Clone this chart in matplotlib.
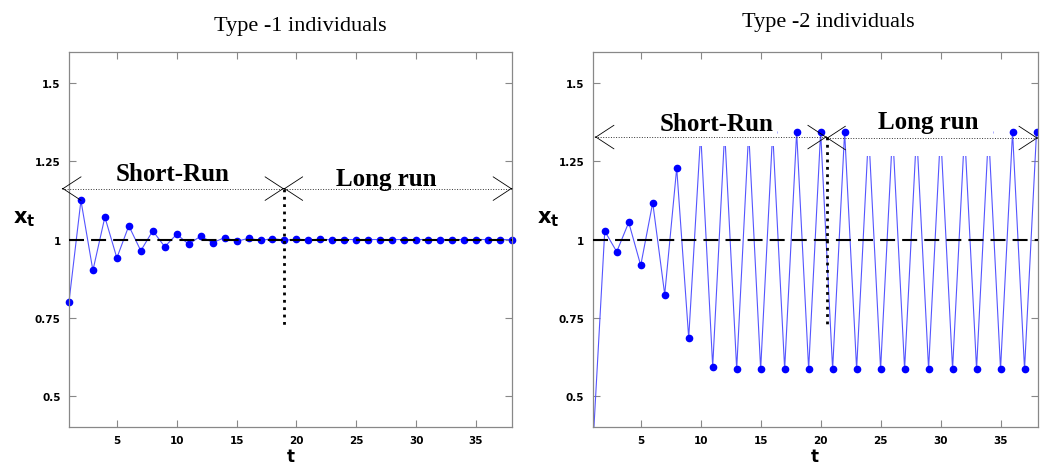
import numpy as np
import matplotlib
matplotlib.use("Agg")
import matplotlib.pyplot as plt
from matplotlib.patches import Rectangle

# --- DATA ---
t = np.arange(1, 39)

type1_x = [0.80, 1.125, 0.901, 1.072, 0.941, 1.044, 0.964, 1.028, 0.977, 1.017,
           0.985, 1.011, 0.990, 1.006, 0.994, 1.004, 0.997, 1.003, 0.998, 1.001,
           0.999, 1.001, 0.999, 1.0, 1.0, 1.0, 1.0, 1.0, 1.0, 1.0,
           1.0, 1.0, 1.0, 1.0, 1.0, 1.0, 1.0, 1.0]

type2_x = [0.33, 1.027, 0.961, 1.055, 0.917, 1.118, 0.824, 1.229, 0.685, 1.34,
           0.593, 1.345, 0.585, 1.345, 0.585, 1.345, 0.585, 1.345, 0.585, 1.345,
           0.585, 1.345, 0.585, 1.345, 0.585, 1.345, 0.585, 1.345, 0.585, 1.345,
           0.585, 1.345, 0.585, 1.345, 0.585, 1.345, 0.585, 1.345]

titles = ["Type -1 individuals", "Type -2 individuals"]
yticks = [0.5, 0.75, 1, 1.25, 1.5]
ytick_labels = ["0.5", "0.75", "1", "1.25", "1.5"]
xticks = [5, 10, 15, 20, 25, 30, 35]

# --- FIGURE ---
fig = plt.figure(figsize=(10.48, 4.64), dpi=100)
ax1 = fig.add_axes([0.0658, 0.0776, 0.4227, 0.808])
ax2 = fig.add_axes([0.5656, 0.0776, 0.4246, 0.808])

serif = "Liberation Serif"


def style_axes(ax, xmax):
    ax.set_xlim(1, xmax)
    ax.set_ylim(0.4, 1.6)
    ax.set_yticks(yticks)
    ax.set_yticklabels(ytick_labels)
    ax.set_xticks(xticks)
    ax.tick_params(direction="in", length=5, width=0.8, color="#888888",
                   top=True, right=True, labelsize=7.5, pad=6)
    for lab in ax.get_xticklabels() + ax.get_yticklabels():
        lab.set_fontweight("bold")
    for sp in ax.spines.values():
        sp.set_color("#888888")
        sp.set_linewidth(0.9)
    ax.set_xlabel("t", fontsize=12, fontweight="bold", labelpad=1)
    ax.set_ylabel(r"$\mathbf{x_t}$", fontsize=15, rotation=0, labelpad=14)
    ax.yaxis.set_label_coords(-0.1, 0.53)


def double_arrow(ax, x0, x1, y):
    # dotted shaft with solid open arrowheads
    ax.plot([x0, x1], [y, y], ls=":", lw=0.7, color="#333333", zorder=4, clip_on=False)
    hs = "->,head_length=1.3,head_width=0.85"
    ax.annotate("", xy=(x0, y), xytext=(x0 + 0.01, y),
                arrowprops=dict(arrowstyle=hs, lw=0.6, color="black", shrinkA=0, shrinkB=0),
                zorder=4, annotation_clip=False)
    ax.annotate("", xy=(x1, y), xytext=(x1 - 0.01, y),
                arrowprops=dict(arrowstyle=hs, lw=0.6, color="black", shrinkA=0, shrinkB=0),
                zorder=4, annotation_clip=False)


# --- LEFT PANEL ---
style_axes(ax1, 38)
ax1.axhline(1, color="black", lw=1.5, dashes=(7.2, 3.4), zorder=3)
ax1.plot(t, type1_x, color="#5555ff", lw=0.8, marker="o", ms=4.5,
         mfc="#0000ff", mec="#0000ff", zorder=2, clip_on=False)
double_arrow(ax1, 0.44, 18.95, 1.163)
double_arrow(ax1, 18.95, 38, 1.163)
ax1.plot([18.95, 18.95], [1.163, 0.718], ls=":", lw=2, color="black", zorder=4)
ax1.text(9.65, 1.21, "Short-Run", family=serif, fontweight="bold", fontsize=18,
         ha="center", va="center", zorder=5)
ax1.text(27.5, 1.195, "Long run", family=serif, fontweight="bold", fontsize=18,
         ha="center", va="center", zorder=5)

# --- RIGHT PANEL ---
style_axes(ax2, 38.1)
ax2.axhline(1, color="black", lw=1.5, dashes=(7.2, 3.4), zorder=3)
ax2.plot(t, type2_x, color="#5555ff", lw=0.8, marker="o", ms=4.5,
         mfc="#0000ff", mec="#0000ff", zorder=2)
# white patches behind the labels hide the peak tops, as in the original figure
ax2.add_patch(Rectangle((9.6, 1.298), 6.8, 0.08, facecolor="white", edgecolor="none", zorder=2.5))
ax2.add_patch(Rectangle((23.6, 1.267), 10.8, 0.11, facecolor="white", edgecolor="none", zorder=2.5))
double_arrow(ax2, 1.2, 20.5, 1.328)
double_arrow(ax2, 20.5, 38.1, 1.325)
ax2.plot([20.5, 20.5], [1.328, 0.727], ls=":", lw=2, color="black", zorder=4)
ax2.text(11.3, 1.37, "Short-Run", family=serif, fontweight="bold", fontsize=18,
         ha="center", va="center", zorder=5)
ax2.text(29, 1.378, "Long run", family=serif, fontweight="bold", fontsize=18,
         ha="center", va="center", zorder=5)

# --- TITLES ---
fig.text(300 / 1048, 1 - 27 / 464, titles[0], family=serif, fontsize=16,
         ha="center", va="center")
fig.text(828 / 1048, 1 - 22 / 464, titles[1], family=serif, fontsize=16,
         ha="center", va="center")

fig.savefig("out.png", dpi=100)
